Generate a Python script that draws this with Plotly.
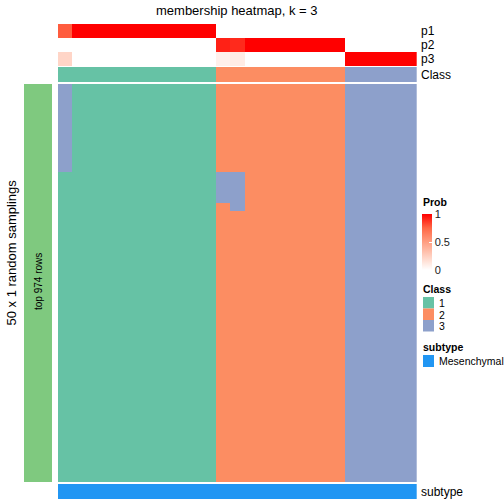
import plotly.graph_objects as go

# ---------------- data ----------------
n_cols = 25
n_rows = 50
p1 = [0.78] + [1.0] * 10 + [0.0] * 14
p2 = [0.0] * 11 + [0.92, 0.90] + [1.0] * 7 + [0.0] * 5
p3 = [0.22] + [0.0] * 10 + [0.08, 0.10] + [0.0] * 7 + [1.0] * 5
class_labels = [1] * 11 + [2] * 9 + [3] * 5
# membership per column as (class, number of rows) runs, top to bottom
col_runs = (
    [[(3, 11), (1, 39)]]
    + [[(1, 50)]] * 10
    + [[(2, 11), (3, 4), (2, 35)]]
    + [[(2, 11), (3, 5), (2, 34)]]
    + [[(2, 50)]] * 7
    + [[(3, 50)]] * 5
)
subtype = ["Mesenchymal"] * n_cols
prob_ticks = [0, 0.5, 1]

# ---------------- styling ----------------
W = H = 504
FONT = "Liberation Sans, Arial, Helvetica, sans-serif"
class_colors = {1: "#66C2A5", 2: "#FC8D62", 3: "#8DA0CB"}
subtype_colors = {"Mesenchymal": "#2196F3"}
rowbar_color = "#7FC97F"
prob_scale = [[0, "#FFFFFF"], [0.25, "rgb(255,207,191)"], [0.5, "rgb(255,158,129)"],
              [0.75, "rgb(255,104,70)"], [1, "#FF0000"]]
class_scale = [[0, class_colors[1]], [1 / 3, class_colors[1]], [1 / 3, class_colors[2]],
               [2 / 3, class_colors[2]], [2 / 3, class_colors[3]], [1, class_colors[3]]]


def fx(px):
    return px / W


def fy(py):
    return 1 - py / H


# build membership matrix from runs
matrix = [[0] * n_cols for _ in range(n_rows)]
for c, runs in enumerate(col_runs):
    r = 0
    for cls, cnt in runs:
        for _ in range(cnt):
            matrix[r][c] = cls
            r += 1

fig = go.Figure()
xs = list(range(n_cols))

# prob annotation (p1, p2, p3)
fig.add_trace(go.Heatmap(
    z=[p1, p2, p3], x=xs, y=["p1", "p2", "p3"], colorscale=prob_scale, zmin=0, zmax=1,
    xaxis="x", yaxis="y", hoverinfo="skip",
    colorbar=dict(x=fx(422), xanchor="left", y=fy(214), yanchor="top", len=56,
                  lenmode="pixels", thickness=10, xpad=0, ypad=0, outlinewidth=0,
                  tickvals=prob_ticks, ticktext=["0", "0.5", "1"], ticks="inside",
                  tickcolor="white", ticklen=3, tickfont=dict(size=11, color="#222"))))

# class annotation
fig.add_trace(go.Heatmap(
    z=[class_labels], x=xs, y=["Class"], colorscale=class_scale, zmin=1, zmax=3,
    showscale=False, xaxis="x2", yaxis="y2", hoverinfo="skip"))

# main membership heatmap
fig.add_trace(go.Heatmap(
    z=matrix, x=xs, y=list(range(n_rows)), colorscale=class_scale, zmin=1, zmax=3,
    showscale=False, xaxis="x3", yaxis="y3", hoverinfo="skip"))

# row annotation bar
fig.add_trace(go.Heatmap(
    z=[[1]], colorscale=[[0, rowbar_color], [1, rowbar_color]], showscale=False,
    xaxis="x4", yaxis="y4", hoverinfo="skip"))

# subtype bar
sub_codes = [list(subtype_colors).index(s) for s in subtype]
fig.add_trace(go.Heatmap(
    z=[sub_codes], x=xs, colorscale=[[0, subtype_colors["Mesenchymal"]], [1, subtype_colors["Mesenchymal"]]],
    showscale=False, xaxis="x5", yaxis="y5", hoverinfo="skip"))

hid = dict(visible=False, showgrid=False, zeroline=False, fixedrange=True)
xl, xr = fx(58), fx(416.7)
fig.update_layout(
    width=W, height=H, margin=dict(l=0, r=0, t=0, b=0),
    paper_bgcolor="white", plot_bgcolor="white",
    font=dict(family=FONT, size=12, color="black"),
    showlegend=False,
    xaxis=dict(domain=[xl, xr], range=[-0.5, n_cols - 0.5], anchor="y", **hid),
    yaxis=dict(domain=[fy(66), fy(24)], autorange="reversed", anchor="x", **hid),
    xaxis2=dict(domain=[xl, xr], range=[-0.5, n_cols - 0.5], anchor="y2", **hid),
    yaxis2=dict(domain=[fy(82), fy(67)], anchor="x2", **hid),
    xaxis3=dict(domain=[xl, xr], range=[-0.5, n_cols - 0.5], anchor="y3", **hid),
    yaxis3=dict(domain=[fy(482), fy(84)], range=[n_rows - 0.5, -0.5], anchor="x3", **hid),
    xaxis4=dict(domain=[fx(24), fx(52)], anchor="y4", **hid),
    yaxis4=dict(domain=[fy(482), fy(84)], anchor="x4", **hid),
    xaxis5=dict(domain=[xl, xr], range=[-0.5, n_cols - 0.5], anchor="y5", **hid),
    yaxis5=dict(domain=[fy(499), fy(484)], anchor="x5", **hid),
)

ann = []


def text(x, y, s, size=12, xanchor="left", bold=False, angle=0):
    ann.append(dict(x=fx(x), y=fy(y), xref="paper", yref="paper", text=f"<b>{s}</b>" if bold else s,
                    showarrow=False, xanchor=xanchor, yanchor="middle", textangle=angle,
                    font=dict(size=size, family=FONT, color="black")))


text(237.3, 10, "membership heatmap, k = 3", size=13, xanchor="center")
for lab, yy in [("p1", 31), ("p2", 45), ("p3", 59), ("Class", 74.5)]:
    text(419, yy, lab, size=12)
text(419, 492, "subtype", size=12)
text(10.5, 253, "50 x 1 random samplings", size=13, xanchor="center", angle=-90)
text(38, 282, "top 974 rows", size=10, xanchor="center", angle=-90)

# legends
text(421, 202, "Prob", size=10.5, bold=True)
text(421, 289, "Class", size=10.5, bold=True)
shapes = []
for i, cls in enumerate([1, 2, 3]):
    y0 = 297 + i * 11.5
    shapes.append(dict(type="rect", xref="paper", yref="paper", x0=fx(423), x1=fx(434),
                       y0=fy(y0 + 11.5), y1=fy(y0), fillcolor=class_colors[cls], line=dict(width=0)))
    text(437, y0 + 6, str(cls), size=10.5)
text(421, 347, "subtype", size=10.5, bold=True)
shapes.append(dict(type="rect", xref="paper", yref="paper", x0=fx(423), x1=fx(434),
                   y0=fy(367), y1=fy(355), fillcolor=subtype_colors["Mesenchymal"], line=dict(width=0)))
text(437, 361, "Mesenchymal", size=10.5)

fig.update_layout(annotations=ann, shapes=shapes)
fig.write_html("out.html", config={"displayModeBar": False})

# remove default page margins so the 504x504 figure fills the window exactly
with open("out.html", "r", encoding="utf-8") as f:
    html = f.read()
html = html.replace("<head>", "<head><style>html,body{margin:0;padding:0;overflow:hidden;}</style>", 1)
with open("out.html", "w", encoding="utf-8") as f:
    f.write(html)
